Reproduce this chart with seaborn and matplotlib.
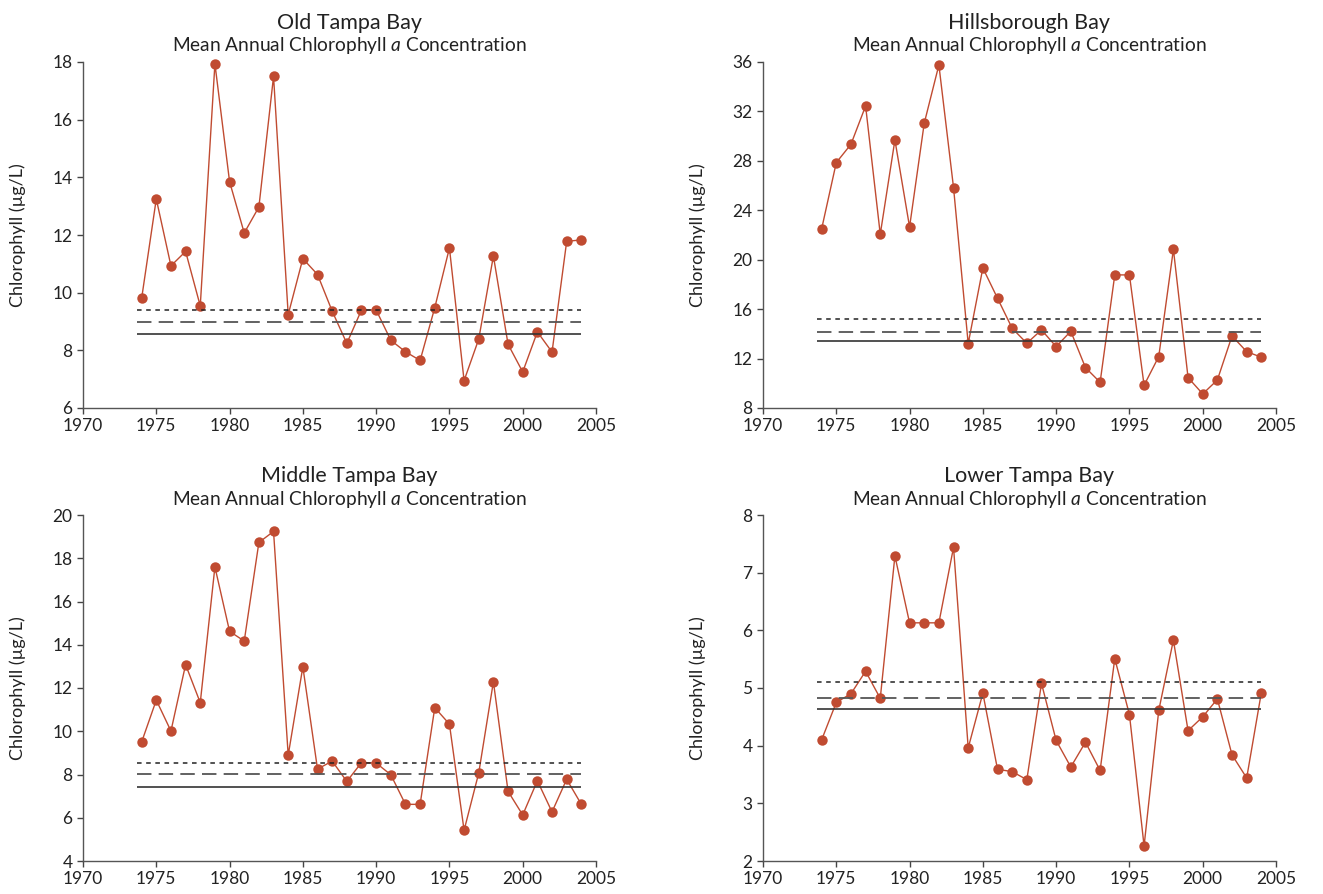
import numpy as np
import pandas as pd
import matplotlib
matplotlib.use('Agg')
import matplotlib.pyplot as plt
import seaborn as sns

# datos (clorofila a media anual, ug/L)
years = list(range(1974, 2005))

old_tampa = [9.80, 13.25, 10.93, 11.43, 9.54, 17.94, 13.85, 12.07, 12.97, 17.50,
             9.24, 11.18, 10.63, 9.36, 8.24, 9.40, 9.40, 8.35, 7.95, 7.65,
             9.48, 11.55, 6.95, 8.39, 11.27, 8.21, 7.25, 8.64, 7.94, 11.78, 11.83]
hillsborough = [22.49, 27.86, 29.34, 32.44, 22.06, 29.69, 22.65, 31.04, 35.76, 25.83,
                13.21, 19.33, 16.88, 14.45, 13.24, 14.32, 12.97, 14.21, 11.27, 10.08,
                18.77, 18.77, 9.84, 12.16, 20.84, 10.46, 9.14, 10.27, 13.83, 12.56, 12.11]
middle_tampa = [9.50, 11.44, 10.01, 13.08, 11.32, 17.60, 14.62, 14.17, 18.73, 19.24,
                8.89, 12.98, 8.25, 8.62, 7.68, 8.55, 8.53, 7.99, 6.62, 6.62,
                11.09, 10.33, 5.42, 8.07, 12.29, 7.22, 6.13, 7.71, 6.27, 7.78, 6.62]
lower_tampa = [4.10, 4.75, 4.90, 5.29, 4.82, 7.29, 6.13, 6.13, 6.13, 7.44,
               3.96, 4.91, 3.59, 3.55, 3.41, 5.08, 4.09, 3.63, 4.06, 3.57,
               5.51, 4.54, 2.26, 4.61, 5.83, 4.26, 4.50, 4.81, 3.84, 3.44, 4.92]

bays = ['Old Tampa Bay', 'Hillsborough Bay', 'Middle Tampa Bay', 'Lower Tampa Bay']
series = [old_tampa, hillsborough, middle_tampa, lower_tampa]

# lineas de referencia: punteada, discontinua, continua
ref_dotted = [9.40, 15.18, 8.53, 5.10]
ref_dashed = [9.00, 14.18, 8.01, 4.83]
ref_solid = [8.58, 13.43, 7.42, 4.64]

# limites y ticks del eje y
y_lims = [(6, 18), (8, 36), (4, 20), (2, 8)]
y_steps = [2, 4, 2, 1]
x_ticks = [1970, 1975, 1980, 1985, 1990, 1995, 2000, 2005]

sns.set_style('ticks')
plt.rcParams['font.family'] = ['Lato', 'DejaVu Sans']
plt.rcParams['mathtext.fontset'] = 'custom'
plt.rcParams['mathtext.rm'] = 'Lato'
plt.rcParams['mathtext.it'] = 'Lato:italic'

color = '#c04b31'
W, H = 1323, 894
fig = plt.figure(figsize=(W / 100, H / 100), dpi=100)

# posiciones en pixeles (izquierda, abajo)
pos = [(83, 408), (763, 408), (83, 861), (763, 861)]
aw, ah = 513, 346

for i in range(4):
    left, bottom = pos[i]
    ax = fig.add_axes([left / W, (H - bottom) / H, aw / W, ah / H])
    df = pd.DataFrame({'Año': years, 'Chl': series[i]})
    sns.lineplot(data=df, x='Año', y='Chl', marker='o', color=color,
                 linewidth=1.0, markersize=7.5, markeredgewidth=0, ax=ax, clip_on=False)
    x0, x1 = years[0] - 0.3, years[-1]
    ax.hlines(ref_dotted[i], x0, x1, colors='#222222', linestyles=(0, (3, 3)), linewidth=1.1)
    ax.hlines(ref_dashed[i], x0, x1, colors='#555555', linestyles=(0, (8, 4)), linewidth=1.3)
    ax.hlines(ref_solid[i], x0, x1, colors='#333333', linestyles='-', linewidth=1.2)

    ax.set_xlim(1970, 2005)
    ax.set_ylim(*y_lims[i])
    ax.set_xticks(x_ticks)
    ax.set_yticks(np.arange(y_lims[i][0], y_lims[i][1] + 0.01, y_steps[i]))
    ax.tick_params(labelsize=12.5, length=4, width=1, colors='#444444', labelcolor='#222222')
    for s in ['left', 'bottom']:
        ax.spines[s].set_color('#555555')
        ax.spines[s].set_linewidth(1)
    sns.despine(ax=ax)
    ax.set_xlabel('')
    ax.set_ylabel('Chlorophyll (µg/L)', fontsize=13, color='#222222')
    ax.yaxis.set_label_coords(-0.112, 0.5)

    cx = (left + aw / 2 + 10) / W
    top = bottom - ah
    fig.text(cx, (H - (top - 39)) / H, bays[i], ha='center', va='center',
             fontsize=15.5, color='#222222')
    fig.text(cx, (H - (top - 16)) / H, r'Mean Annual Chlorophyll $a$ Concentration',
             ha='center', va='center', fontsize=13.8, color='#222222')

fig.savefig('out.png', dpi=100)
